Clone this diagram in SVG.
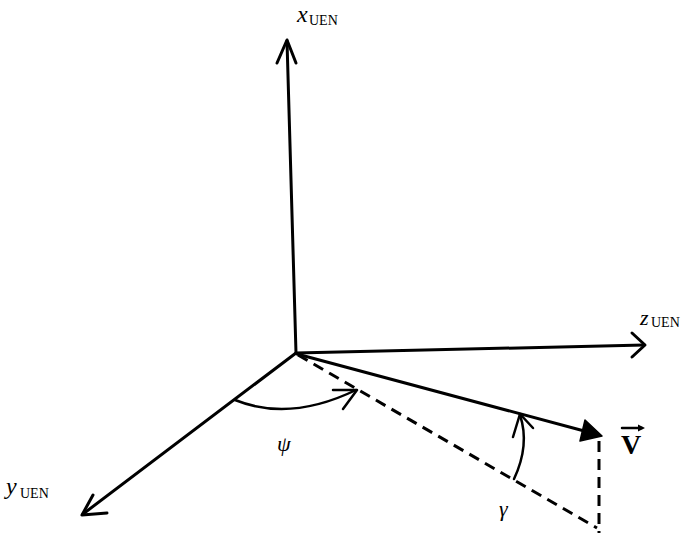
<svg xmlns="http://www.w3.org/2000/svg" width="684" height="535" viewBox="0 0 684 535">
<style>
.ln{fill:none;stroke:#000;stroke-width:3;stroke-linecap:round;stroke-linejoin:round}
.thin{fill:none;stroke:#000;stroke-width:2.5;stroke-linecap:round;stroke-linejoin:round}
.dash{fill:none;stroke:#000;stroke-width:3;stroke-dasharray:11 7}
.var{font-family:"Liberation Serif",serif;font-style:italic;fill:#000}
.sub{font-family:"Liberation Serif",serif;font-size:14px;fill:#000}
</style>
<rect width="684" height="535" fill="#fff"/>
<g id="connectors">
  <g id="axis-x">
    <path class="ln" d="M296,353 L287,41"/>
    <path class="ln" d="M277,63 L287,40 L296,63"/>
  </g>
  <g id="axis-z">
    <path class="ln" d="M296,353 L644,345"/>
    <path class="ln" d="M632,333 L645,345 L632,357"/>
  </g>
  <g id="axis-y">
    <path class="ln" d="M296,353 L83,514"/>
    <path class="ln" d="M93,495 L82,515 L107,513"/>
  </g>
  <g id="vector-V">
    <path class="ln" d="M297,354 L588,432"/>
    <path d="M602,436 L580,441 L585,420 Z" fill="#000" stroke="#000" stroke-width="1.5" stroke-linejoin="round"/>
  </g>
  <g id="projection">
    <path class="dash" d="M298,355 L597,528"/>
    <path class="dash" d="M599,441 L599,533"/>
  </g>
</g>
<g id="angle-psi">
  <path class="thin" d="M235,400 Q290,422 356,390"/>
  <path class="thin" d="M333,390 L357,390 L343,409"/>
  <text class="var" x="277" y="451" font-size="22">ψ</text>
</g>
<g id="angle-gamma">
  <path class="thin" d="M514,479 Q530,445 520,415"/>
  <path class="thin" d="M513,437 L520,414 L533,428"/>
  <text class="var" x="499" y="516" font-size="22">γ</text>
</g>
<g id="label-x">
  <text class="var" x="297" y="22" font-size="24">x</text>
  <text class="sub" x="309" y="25">UEN</text>
</g>
<g id="label-z">
  <text class="var" x="640" y="325" font-size="22">z</text>
  <text class="sub" x="651" y="327">UEN</text>
</g>
<g id="label-y">
  <text class="var" x="6" y="494" font-size="24">y</text>
  <text class="sub" x="20" y="498">UEN</text>
</g>
<g id="label-V">
  <text x="621" y="454" font-family="Liberation Serif,serif" font-weight="bold" font-size="28" fill="#000">V</text>
  <path class="thin" d="M622,428 L642,428"/>
  <path d="M645,428 L638,424.5 L638,431.5 Z" fill="#000"/>
</g>
</svg>
